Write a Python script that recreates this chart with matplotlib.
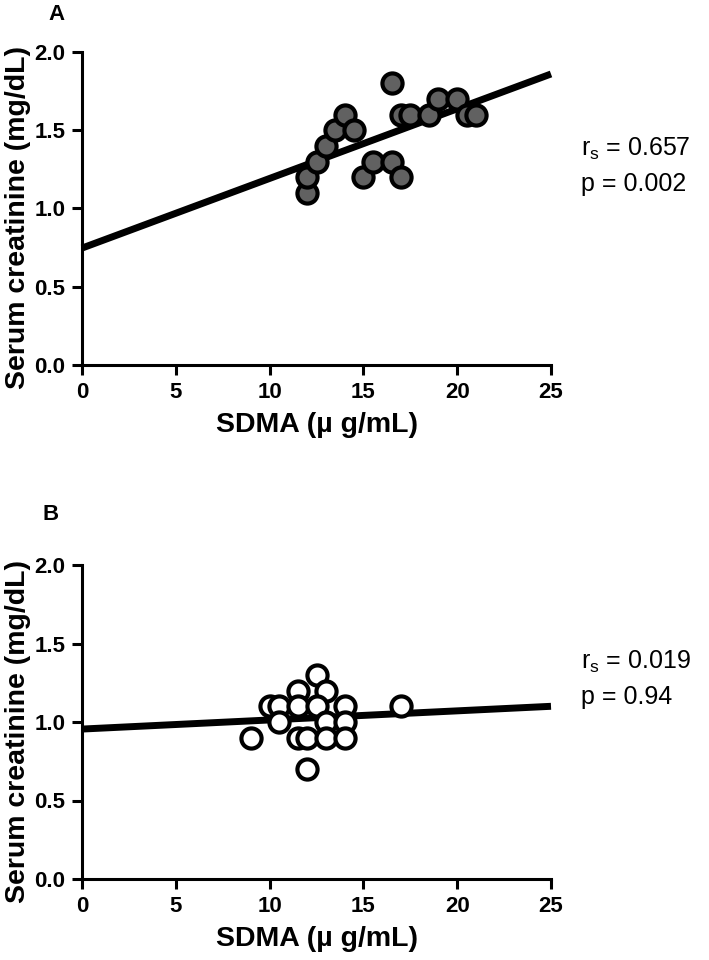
import numpy as np
import matplotlib
matplotlib.use("Agg")
import matplotlib.pyplot as plt

plt.rcParams['font.family'] = ['Liberation Sans', 'DejaVu Sans']

# Panel A data (SDMA µg/mL, serum creatinine mg/dL)
a_sdma = [12, 12, 12.5, 13, 13.5, 14, 14.5, 15, 15.5, 16.5, 17, 16.5, 17, 17.5, 18.5, 19, 20, 20.5, 21]
a_crea = [1.1, 1.2, 1.3, 1.4, 1.5, 1.6, 1.5, 1.2, 1.3, 1.3, 1.2, 1.8, 1.6, 1.6, 1.6, 1.7, 1.7, 1.6, 1.6]
a_fit = [0.747, 0.0445]   # intercept, slope of drawn regression line

# Panel B data
b_sdma = [12.5, 11.5, 13, 10, 10.5, 11.5, 12.5, 14, 17, 10.5, 13, 14, 9, 11.5, 12, 13, 14, 12]
b_crea = [1.3, 1.2, 1.2, 1.1, 1.1, 1.1, 1.1, 1.1, 1.1, 1.0, 1.0, 1.0, 0.9, 0.9, 0.9, 0.9, 0.9, 0.7]
b_fit = [0.955, 0.0058]

x_ticks = [0, 5, 10, 15, 20, 25]
y_ticks = [0.0, 0.5, 1.0, 1.5, 2.0]
x_ticklabels = ['0', '5', '10', '15', '20', '25']
y_ticklabels = ['0.0', '0.5', '1.0', '1.5', '2.0']

stats_a = ['0.657', '0.002']
stats_b = ['0.019', '0.94']

W, H = 709, 960
fig = plt.figure(figsize=(W / 100, H / 100), dpi=100)


def px_axes(left, top, right, bottom):
    return fig.add_axes([left / W, 1 - bottom / H, (right - left) / W, (bottom - top) / H])


def panel(ax, xs, ys, fit, face, letter, letter_xy, stats, text_y):
    xl = np.array([0, 25])
    ax.plot(xl, fit[0] + fit[1] * xl, color='black', lw=5, solid_capstyle='butt', zorder=2, clip_on=False)
    ax.plot(xs, ys, 'o', ms=14.5, mfc=face, mec='black', mew=3, zorder=3, clip_on=False)
    ax.set_xlim(0, 25)
    ax.set_ylim(0, 2.0)
    ax.set_xticks(x_ticks)
    ax.set_xticklabels(x_ticklabels)
    ax.set_yticks(y_ticks)
    ax.set_yticklabels(y_ticklabels)
    for s in ['top', 'right']:
        ax.spines[s].set_visible(False)
    for s in ['left', 'bottom']:
        ax.spines[s].set_linewidth(2.2)
    ax.tick_params(axis='both', direction='out', length=7, width=2.2, labelsize=16, pad=5)
    for lab in ax.get_xticklabels() + ax.get_yticklabels():
        lab.set_fontweight('bold')
    ax.set_xlabel('SDMA (µ g/mL)', fontsize=20.5, fontweight='bold', labelpad=7)
    ax.set_ylabel('Serum creatinine (mg/dL)', fontsize=20.5, fontweight='bold')
    ax.yaxis.set_label_coords(-0.108, 0.47)
    ax.text(letter_xy[0], letter_xy[1], letter, transform=ax.transAxes, fontsize=16,
            fontweight='bold', ha='center', va='center')
    ax.text(1.065, text_y, r'r$_\mathregular{s}$ = ' + stats[0], transform=ax.transAxes,
            fontsize=18, ha='left', va='baseline')
    ax.text(1.065, text_y - 0.113, 'p = ' + stats[1], transform=ax.transAxes,
            fontsize=18, ha='left', va='baseline')


ax_a = px_axes(82, 52, 551, 365)
panel(ax_a, a_sdma, a_crea, a_fit, '#616161', 'A', (-0.055, 1.12), stats_a, 0.668)

ax_b = px_axes(82, 565, 551, 879)
panel(ax_b, b_sdma, b_crea, b_fit, 'white', 'B', (-0.068, 1.16), stats_b, 0.67)

fig.savefig('out.png', dpi=100)
